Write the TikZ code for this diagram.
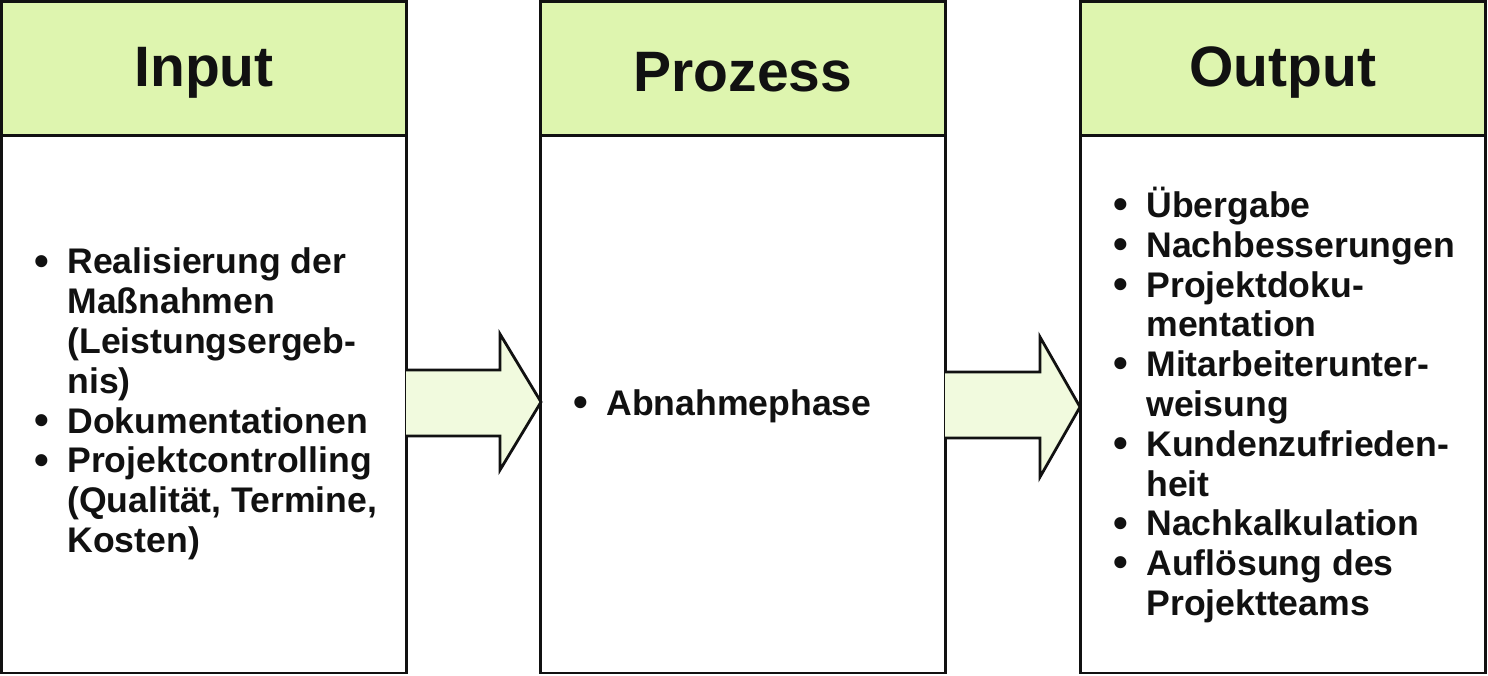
\documentclass[tikz,border=0pt]{standalone}
\usepackage{fontspec}
\setmainfont{Liberation Sans}
\definecolor{hdrgreen}{RGB}{222,245,175}
\definecolor{arrgreen}{RGB}{241,250,222}
\definecolor{ink}{RGB}{17,17,17}
\newcommand{\bul}{\makebox[16.5pt][l]{\raisebox{-0.6pt}{\fontsize{21}{19.9}\selectfont\textbullet}}}
\newcommand{\ind}{\hspace*{16.5pt}}
\begin{document}
\begin{tikzpicture}[x=0.5pt,y=-0.5pt,
  hdr/.style={draw=ink, line width=1.4pt, fill=hdrgreen, minimum width=202.5pt, minimum height=67pt, inner sep=0pt},
  hdrlbl/.style={font=\fontsize{28.5}{30}\selectfont\bfseries, text=ink, inner sep=0pt},
  body/.style={draw=ink, line width=1.4pt, fill=white, minimum width=202.5pt, minimum height=269pt, inner sep=0pt},
  txt/.style={anchor=west, align=left, inner sep=0pt, text=ink, font=\fontsize{17.8}{19.9}\selectfont\bfseries},
  blockarrow/.style={draw=ink, line width=1.4pt, fill=arrgreen, line join=miter}]
\useasboundingbox (0,0) rectangle (1488,675);
% columns
\node[body] (inbody) at (204,404) {};
\node[hdr] (inhdr) at (204,68.5) {};
\node[body] (prbody) at (743,404) {};
\node[hdr] (prhdr) at (743,68.5) {};
\node[body] (outbody) at (1283,404) {};
\node[hdr] (outhdr) at (1283,68.5) {};
\node[hdrlbl] (inlbl) at ([yshift=-2pt]inhdr.center) {Input};
\node[hdrlbl] (prlbl) at ([yshift=-2pt]prhdr.center) {Prozess};
\node[hdrlbl] (outlbl) at ([yshift=-2pt]outhdr.center) {Output};
% texts
\node[txt] (intxt) at (34,404) {\bul Realisierung der\\ \ind Maßnahmen\\ \ind (Leistungsergeb-\\ \ind nis)\\ \bul Dokumentationen\\ \bul Projektcontrolling\\ \ind (Qualität, Termine,\\ \ind Kosten)};
\node[txt] (prtxt) at (573,406) {\bul Abnahmephase};
\node[txt] (outtxt) at (1113,405) {\bul Übergabe\\ \bul Nachbesserungen\\ \bul Projektdoku-\\ \ind mentation\\ \bul Mitarbeiterunter-\\ \ind weisung\\ \bul Kundenzufrieden-\\ \ind heit\\ \bul Nachkalkulation\\ \bul Auflösung des\\ \ind Projektteams};
% block arrows
\draw[blockarrow] (406,370) -- (500,370) -- (500,334) -- (541,402) -- (500,470) -- (500,436) -- (406,436);
\draw[blockarrow] (945,372) -- (1040,372) -- (1040,337) -- (1080,407) -- (1040,477) -- (1040,438) -- (945,438);
\end{tikzpicture}
\end{document}
